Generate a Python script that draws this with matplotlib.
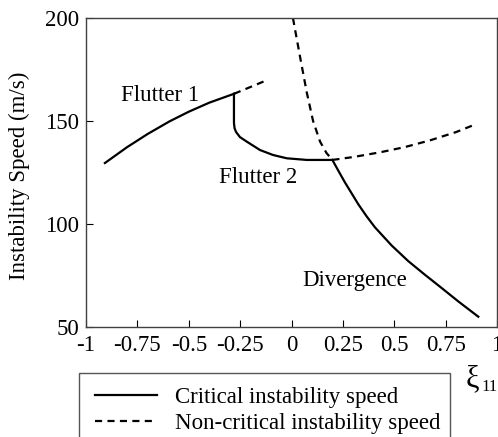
import matplotlib
matplotlib.use("Agg")
import matplotlib.pyplot as plt
from matplotlib.patches import Rectangle

plt.rcParams['font.family'] = ['Liberation Serif', 'DejaVu Serif']

# ---- data ----
flutter1_x = [-0.908, -0.8, -0.7, -0.594, -0.5, -0.4, -0.28]
flutter1_y = [129.6, 137.3, 143.7, 149.8, 154.5, 158.9, 163.2]

flutter1_nc_x = [-0.28, -0.2, -0.13]
flutter1_nc_y = [163.2, 166.5, 169.4]

flutter2_x = [-0.28, -0.28, -0.277, -0.270, -0.251, -0.218, -0.153, -0.090,
              -0.023, 0.074, 0.199]
flutter2_y = [163.2, 149.0, 146.5, 144.7, 142.2, 140.0, 135.9, 133.5,
              131.9, 131.1, 131.1]

flutter2_nc_x = [0.199, 0.3, 0.431, 0.55, 0.674, 0.8, 0.901]
flutter2_nc_y = [131.1, 132.5, 134.8, 137.3, 140.6, 144.6, 148.6]

div_x = [0.199, 0.230, 0.260, 0.325, 0.365, 0.406, 0.487, 0.568, 0.650,
         0.731, 0.812, 0.909]
div_y = [131.1, 125.5, 120.2, 109.6, 103.8, 98.4, 89.6, 82.0, 75.3,
         68.9, 62.4, 55.0]

div_nc_x = [0.007, 0.041, 0.074, 0.105, 0.139, 0.170, 0.199]
div_nc_y = [200.0, 181.5, 164.0, 150.0, 140.0, 134.5, 131.1]

xticks = [-1, -0.75, -0.5, -0.25, 0, 0.25, 0.5, 0.75, 1]
xticklabels = ['-1', '-0.75', '-0.5', '-0.25', '0', '0.25', '0.5', '0.75', '1']
yticks = [50, 100, 150, 200]

FS = 16.5
W, H = 498, 437
fig = plt.figure(figsize=(W / 100, H / 100), dpi=100)
ax = fig.add_axes([86 / W, 1 - 327 / H, (497 - 86) / W, (327 - 18) / H])

lw = 1.6
dash = (0, (3.2, 2.4))
ax.plot(flutter1_x, flutter1_y, color='black', lw=lw,
        label='Critical instability speed')
ax.plot(flutter1_nc_x, flutter1_nc_y, color='black', lw=lw, linestyle=dash,
        label='Non-critical instability speed')
ax.plot(flutter2_x, flutter2_y, color='black', lw=lw)
ax.plot(flutter2_nc_x, flutter2_nc_y, color='black', lw=lw, linestyle=dash)
ax.plot(div_x, div_y, color='black', lw=lw)
ax.plot(div_nc_x, div_nc_y, color='black', lw=lw, linestyle=dash)

ax.set_xlim(-1, 1)
ax.set_ylim(50, 200)
ax.set_xticks(xticks)
ax.set_xticklabels(xticklabels)
ax.set_yticks(yticks)
ax.tick_params(direction='in', length=5, width=0.8, labelsize=FS, colors='black')
ax.tick_params(axis='x', pad=6)
ax.tick_params(axis='y', pad=5)
for s in ax.spines.values():
    s.set_color('#404040')
    s.set_linewidth(1.0)

ax.set_ylabel('Instability Speed (m/s)', fontsize=FS)
ax.yaxis.set_label_coords(-(86 - 30) / (497 - 86), 0.49)

ax.text(-0.64, 162.6, 'Flutter 1', fontsize=FS, ha='center', va='center')
ax.text(-0.161, 122.8, 'Flutter 2', fontsize=FS, ha='center', va='center')
ax.text(0.307, 72.8, 'Divergence', fontsize=FS, ha='center', va='center')

fig.text(466 / W, 1 - 379 / H, 'ξ', fontsize=22, ha='left', va='center')
fig.text(481 / W, 1 - 387 / H, '11', fontsize=12, ha='left', va='center')

# legend box
fig.patches.append(Rectangle((79 / W, -0.05), (450 - 79) / W, (1 - 373 / H) + 0.05,
                             transform=fig.transFigure, fill=False,
                             edgecolor='#555555', linewidth=1.0))
leg = fig.legend(loc='upper left', bbox_to_anchor=(95 / W, 1 - 387 / H),
                 bbox_transform=fig.transFigure, fontsize=FS, frameon=False,
                 handlelength=2.7, handletextpad=0.8, borderpad=0,
                 labelspacing=0.2, borderaxespad=0)

fig.savefig('out.png', dpi=100)
